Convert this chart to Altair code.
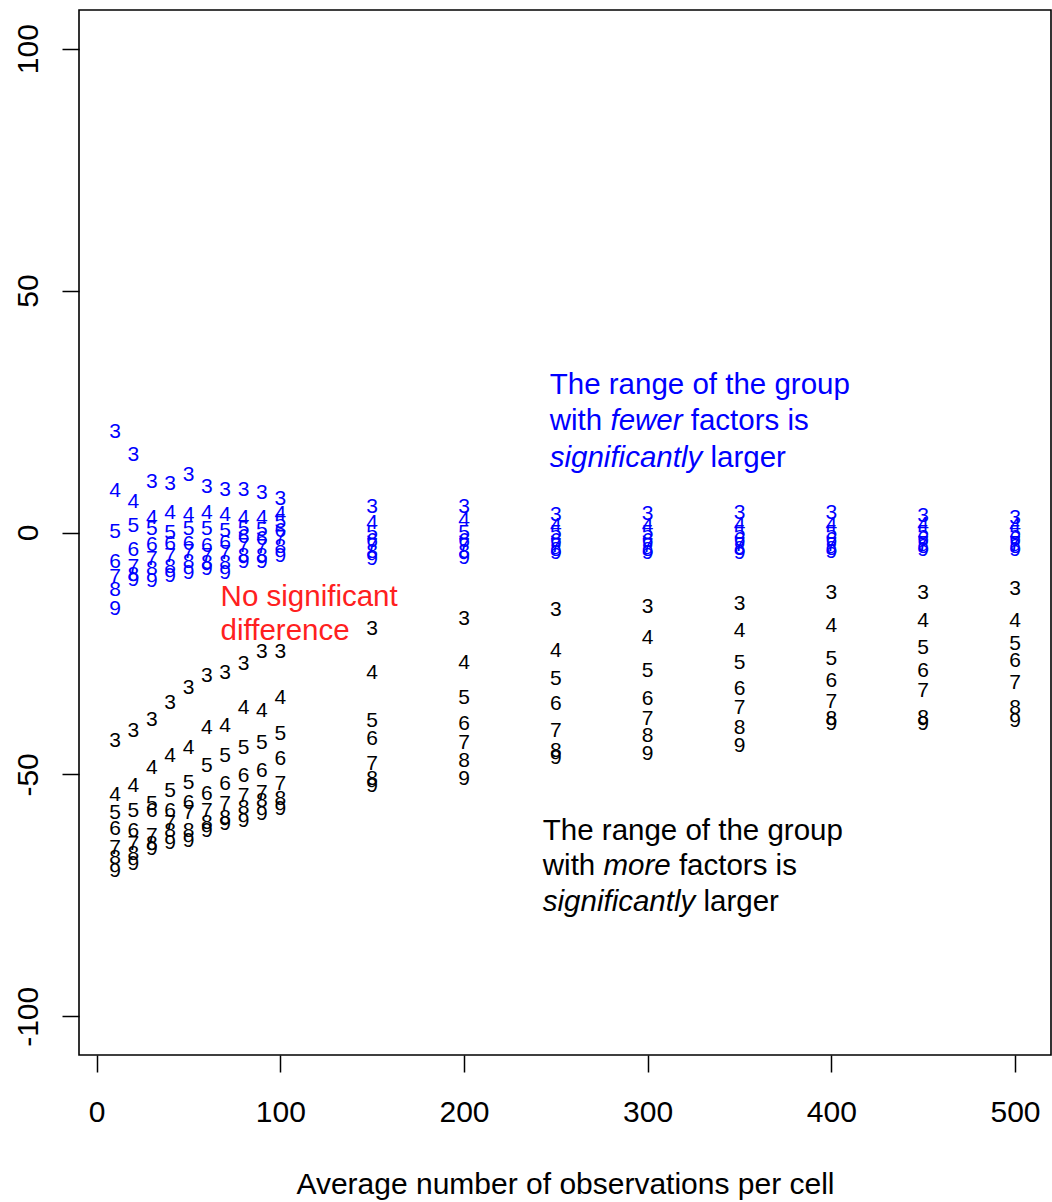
import altair as alt
import pandas as pd

# x positions (average number of observations per cell)
x_vals = [10, 20, 30, 40, 50, 60, 70, 80, 90, 100, 150, 200, 250, 300, 350, 400, 450, 500]

# Upper (blue) series: one list per number of factors
blue_3 = [20.7, 16.1, 10.4, 10.1, 11.8, 9.5, 8.7, 8.7, 8.1, 7.0, 5.2, 5.2, 3.7, 3.9, 4.1, 4.1, 3.5, 3.1]
blue_4 = [8.5, 6.4, 3.1, 4.1, 3.7, 4.1, 3.7, 2.9, 3.1, 3.9, 1.9, 2.5, 1.4, 1.4, 1.6, 1.6, 1.6, 1.4]
blue_5 = [0.2, 1.4, 0.8, -0.2, 0.8, 0.8, 0.4, 0.8, 0.5, 2.1, -0.2, -0.2, -0.2, -0.2, 0.0, 0.0, 0.0, -0.2]
blue_6 = [-6.2, -3.7, -2.5, -2.3, -2.3, -2.7, -2.1, -1.0, -1.3, 0.4, -1.7, -1.7, -1.7, -1.7, -1.5, -1.5, -1.3, -1.3]
blue_7 = [-9.1, -7.2, -5.5, -4.8, -4.1, -4.8, -4.3, -2.7, -3.1, -1.2, -2.7, -2.7, -2.7, -2.7, -2.5, -2.5, -2.3, -2.3]
blue_8 = [-11.8, -8.7, -7.5, -7.2, -6.2, -6.4, -6.4, -4.8, -4.8, -2.9, -4.1, -4.1, -3.7, -3.7, -3.5, -3.5, -3.1, -3.1]
blue_9 = [-15.9, -9.9, -10.0, -8.9, -8.3, -7.5, -8.3, -6.2, -6.0, -4.8, -5.4, -5.2, -4.3, -4.3, -4.3, -4.1, -3.7, -3.7]

# Lower (black) series: one list per number of factors
black_3 = [-43.1, -41.0, -38.7, -35.2, -32.1, -29.6, -29.0, -27.1, -24.8, -24.6, -19.9, -17.8, -16.1, -15.5, -14.7, -12.6, -12.6, -11.6]
black_4 = [-54.2, -52.4, -48.7, -46.2, -44.5, -40.4, -40.0, -36.2, -36.9, -34.2, -29.0, -26.9, -24.4, -21.9, -20.3, -19.3, -18.2, -18.2]
black_5 = [-58.0, -57.6, -56.1, -53.4, -51.8, -48.2, -46.2, -44.5, -43.5, -41.6, -38.9, -34.2, -30.2, -28.6, -26.9, -26.1, -23.8, -23.0]
black_6 = [-61.3, -61.7, -57.6, -57.6, -55.9, -54.0, -52.0, -50.3, -49.3, -46.8, -42.7, -39.5, -35.4, -34.4, -32.3, -30.6, -28.6, -26.5]
black_7 = [-65.2, -64.4, -62.7, -60.0, -58.0, -57.6, -56.1, -54.5, -53.8, -52.0, -47.8, -43.5, -41.0, -38.5, -36.2, -35.0, -32.7, -31.1]
black_8 = [-67.3, -66.5, -64.4, -61.7, -61.7, -60.0, -59.0, -56.9, -55.5, -55.1, -50.9, -47.2, -45.1, -42.0, -40.5, -38.5, -38.3, -36.2]
black_9 = [-70.0, -68.5, -65.4, -64.2, -63.8, -61.7, -60.2, -59.6, -58.2, -57.1, -52.4, -50.9, -46.6, -45.8, -44.1, -39.5, -39.5, -38.9]

factor_labels = ["3", "4", "5", "6", "7", "8", "9"]
blue_series = [blue_3, blue_4, blue_5, blue_6, blue_7, blue_8, blue_9]
black_series = [black_3, black_4, black_5, black_6, black_7, black_8, black_9]

# Annotations (anchor in data coordinates)
blue_note_lines = ["The range of the group", "with ", "fewer", "factors is", "significantly", "larger"]
black_note_lines = ["The range of the group", "with ", "more", "factors is", "significantly", "larger"]
red_note_lines = ["No significant", "difference"]
blue_note_x, blue_note_y = 246.7, [30.4, 23.0, 15.5]
black_note_x, black_note_y = 242.9, [-61.7, -68.9, -76.4]
red_note_x, red_note_y = 67.5, [-13.3, -20.3]

rows = []
for lab, ser in zip(factor_labels, blue_series):
    for xv, yv in zip(x_vals, ser):
        rows.append({"x": xv, "y": yv, "label": lab, "col": "blue"})
for lab, ser in zip(factor_labels, black_series):
    for xv, yv in zip(x_vals, ser):
        rows.append({"x": xv, "y": yv, "label": lab, "col": "black"})
df = pd.DataFrame(rows)

FONT = "Liberation Sans"
NOTE_SIZE = 29.5

xscale = alt.Scale(domain=[-9.6, 519.6], nice=False, zero=False)
yscale = alt.Scale(domain=[-108, 108], nice=False, zero=False)

xaxis = alt.Axis(
    values=[0, 100, 200, 300, 400, 500], grid=False, domain=False,
    tickSize=17, tickColor="black", tickWidth=1.5,
    labelFont=FONT, labelFontSize=30, labelColor="black",
    labelPadding=40, labelBaseline="middle", labelOverlap=False, labelFlush=False,
    labelExpr="datum.value + ''",
    title="Average number of observations per cell",
    titleFont=FONT, titleFontSize=30, titleFontWeight="normal", titleColor="black",
    titleY=129, titleX=486, titleBaseline="middle", titleAlign="center",
)
yaxis = alt.Axis(
    values=[-100, -50, 0, 50, 100], grid=False, domain=False,
    tickSize=17, tickColor="black", tickWidth=1.5,
    labelFont=FONT, labelFontSize=30, labelColor="black",
    labelAngle=270, labelAlign="center", labelBaseline="middle",
    labelPadding=34, labelOverlap=False, labelFlush=False,
    labelExpr="datum.value + ''",
    title=None,
)

points = alt.Chart(df).mark_text(font=FONT, fontSize=21, align="center", baseline="middle").encode(
    x=alt.X("x:Q", scale=xscale, axis=xaxis),
    y=alt.Y("y:Q", scale=yscale, axis=yaxis),
    text="label:N",
    color=alt.Color("col:N", scale=None),
)

def note(text, xv, yv, color, dx=0, italic=False):
    d = pd.DataFrame({"x": [xv], "y": [yv], "t": [text]})
    return alt.Chart(d).mark_text(
        font=FONT, fontSize=NOTE_SIZE, align="left", baseline="middle", color=color,
        dx=dx, fontStyle="italic" if italic else "normal",
    ).encode(x=alt.X("x:Q", scale=xscale), y=alt.Y("y:Q", scale=yscale), text="t:N")

layers = [points]
for lines, nx, ny, color, w_em in [
    (blue_note_lines, blue_note_x, blue_note_y, "blue", 72.1),
    (black_note_lines, black_note_x, black_note_y, "black", 67.2),
]:
    layers.append(note(lines[0], nx, ny[0], color))
    layers.append(note(lines[1], nx, ny[1], color))
    layers.append(note(lines[2], nx, ny[1], color, dx=60.7, italic=True))
    layers.append(note(lines[3], nx, ny[1], color, dx=60.7 + w_em + 8.2))
    layers.append(note(lines[4], nx, ny[2], color, italic=True))
    layers.append(note(lines[5], nx, ny[2], color, dx=152.5 + 8.2))
for t, yv in zip(red_note_lines, red_note_y):
    layers.append(note(t, red_note_x, yv, "#ff2020"))

chart = alt.layer(*layers).properties(
    width=972, height=1045,
    autosize=alt.AutoSizeParams(type="none"),
    padding={"left": 79, "top": 10, "right": 1, "bottom": 147},
    background="white",
).configure_view(stroke="black", strokeWidth=1.6)

chart.save("out.html", embed_options={"renderer": "svg", "actions": False})
